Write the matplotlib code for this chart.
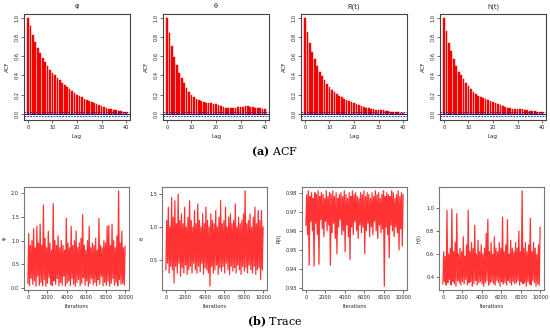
import numpy as np
import matplotlib
matplotlib.use('Agg')
import matplotlib.pyplot as plt

plt.rcParams['mathtext.fontset'] = 'dejavuserif'

# ACF values, lags 0..40
lags = list(range(41))
acf_phi = [1.0, 0.91, 0.82, 0.75, 0.69, 0.63, 0.58, 0.54, 0.50, 0.46, 0.43,
           0.40, 0.37, 0.35, 0.32, 0.30, 0.28, 0.26, 0.24, 0.22, 0.20,
           0.185, 0.17, 0.155, 0.14, 0.13, 0.12, 0.11, 0.10, 0.09, 0.08,
           0.07, 0.06, 0.05, 0.045, 0.04, 0.035, 0.03, 0.025, 0.02, 0.02]
acf_theta = [1.0, 0.84, 0.71, 0.59, 0.51, 0.43, 0.37, 0.32, 0.27, 0.23, 0.20,
             0.17, 0.15, 0.14, 0.13, 0.12, 0.11, 0.11, 0.11, 0.105, 0.10,
             0.095, 0.085, 0.075, 0.065, 0.06, 0.06, 0.06, 0.065, 0.07, 0.07,
             0.075, 0.08, 0.08, 0.075, 0.07, 0.065, 0.06, 0.055, 0.05, 0.045]
acf_R = [1.0, 0.85, 0.74, 0.64, 0.57, 0.50, 0.44, 0.39, 0.35, 0.31, 0.28,
         0.25, 0.23, 0.21, 0.19, 0.17, 0.155, 0.14, 0.13, 0.12, 0.11,
         0.10, 0.09, 0.08, 0.07, 0.06, 0.055, 0.05, 0.045, 0.04, 0.04,
         0.04, 0.035, 0.03, 0.025, 0.02, 0.02, 0.015, 0.015, 0.01, 0.01]
acf_h = [1.0, 0.86, 0.74, 0.65, 0.57, 0.50, 0.44, 0.40, 0.36, 0.32, 0.29,
         0.26, 0.23, 0.21, 0.19, 0.17, 0.16, 0.15, 0.14, 0.13, 0.12,
         0.11, 0.10, 0.09, 0.08, 0.07, 0.065, 0.06, 0.05, 0.05, 0.05,
         0.05, 0.045, 0.04, 0.035, 0.03, 0.03, 0.025, 0.02, 0.02, 0.015]
ci = 0.02

# trace values: alternating lows / highs of the chain
phi_low = [0.10, 0.05, 0.20, 0.08, 0.15, 0.04, 0.25, 0.06, 0.12, 0.05,
           0.18, 0.04, 0.10, 0.22, 0.07, 0.05, 0.15, 0.08, 0.20, 0.05,
           0.12, 0.06, 0.25, 0.04, 0.10, 0.15, 0.05, 0.20, 0.08, 0.04,
           0.12, 0.18, 0.05, 0.10, 0.22, 0.06, 0.15, 0.04, 0.10, 0.20,
           0.07, 0.12, 0.05, 0.18, 0.08, 0.25, 0.05, 0.12, 0.06, 0.15,
           0.04, 0.10, 0.20, 0.06, 0.12, 0.05, 0.18, 0.08, 0.10, 0.06]
phi_high = [1.15, 0.90, 1.00, 1.25, 0.85, 1.30, 0.95, 1.35, 0.90, 1.75,
            1.05, 0.85, 1.20, 0.95, 0.80, 1.78, 1.00, 0.90, 1.10, 0.85,
            1.00, 0.90, 0.80, 1.47, 0.95, 0.85, 1.30, 0.90, 1.00, 1.20,
            0.85, 0.95, 1.05, 1.55, 0.90, 0.80, 1.00, 1.30, 0.85, 0.95,
            0.90, 1.05, 0.80, 1.47, 0.90, 0.85, 1.00, 0.95, 1.30, 1.32,
            0.90, 1.35, 1.00, 0.85, 1.10, 2.05, 0.95, 1.20, 0.85, 0.88]

theta_low = [0.35, 0.45, 0.30, 0.40, 0.35, 0.15, 0.40, 0.30, 0.45, 0.25,
             0.38, 0.30, 0.42, 0.28, 0.35, 0.40, 0.30, 0.45, 0.35, 0.30,
             0.40, 0.32, 0.45, 0.28, 0.38, 0.35, 0.30, 0.10, 0.40, 0.30,
             0.35, 0.42, 0.28, 0.38, 0.33, 0.40, 0.30, 0.45, 0.35, 0.28,
             0.40, 0.33, 0.38, 0.30, 0.42, 0.35, 0.28, 0.40, 0.33, 0.38,
             0.30, 0.42, 0.35, 0.30, 0.40, 0.28, 0.35, 0.38, 0.20, 0.35]
theta_high = [1.10, 1.30, 1.00, 1.45, 1.15, 1.40, 1.05, 1.50, 1.10, 1.20,
              1.05, 1.30, 1.00, 1.15, 1.40, 1.10, 1.00, 1.25, 1.05, 1.35,
              1.10, 1.00, 1.20, 1.05, 1.30, 1.10, 1.00, 1.20, 1.10, 1.05,
              1.25, 1.00, 1.15, 1.40, 1.05, 1.10, 1.30, 1.00, 1.15, 1.20,
              1.05, 1.10, 1.35, 1.00, 1.15, 1.05, 1.10, 1.20, 1.55, 1.05,
              1.10, 1.20, 1.00, 1.15, 1.30, 1.05, 1.25, 1.10, 1.25, 1.00]

R_low = [0.963, 0.958, 0.942, 0.965, 0.960, 0.9415, 0.964, 0.958, 0.9425, 0.966,
         0.961, 0.957, 0.965, 0.960, 0.963, 0.942, 0.959, 0.964, 0.956, 0.948,
         0.962, 0.966, 0.958, 0.960, 0.949, 0.963, 0.957, 0.945, 0.962, 0.958,
         0.965, 0.960, 0.956, 0.963, 0.959, 0.962, 0.948, 0.960, 0.964, 0.957,
         0.962, 0.958, 0.965, 0.960, 0.956, 0.963, 0.959, 0.961, 0.931, 0.962,
         0.958, 0.946, 0.963, 0.960, 0.957, 0.962, 0.959, 0.950, 0.961, 0.952]
R_high = [0.979, 0.981, 0.978, 0.980, 0.977, 0.980, 0.979, 0.981, 0.978, 0.980,
          0.979, 0.977, 0.981, 0.978, 0.980, 0.979, 0.981, 0.978, 0.980, 0.977,
          0.979, 0.980, 0.978, 0.981, 0.979, 0.977, 0.980, 0.978, 0.981, 0.979,
          0.980, 0.978, 0.977, 0.980, 0.979, 0.981, 0.978, 0.980, 0.979, 0.977,
          0.980, 0.978, 0.981, 0.979, 0.980, 0.977, 0.979, 0.981, 0.978, 0.980,
          0.979, 0.978, 0.981, 0.980, 0.977, 0.979, 0.981, 0.978, 0.980, 0.979]

h_low = [0.34, 0.36, 0.33, 0.35, 0.38, 0.33, 0.36, 0.34, 0.32, 0.37,
         0.35, 0.33, 0.36, 0.34, 0.38, 0.33, 0.35, 0.36, 0.32, 0.34,
         0.37, 0.33, 0.35, 0.36, 0.34, 0.32, 0.35, 0.37, 0.33, 0.35,
         0.36, 0.34, 0.33, 0.37, 0.35, 0.32, 0.36, 0.34, 0.35, 0.33,
         0.37, 0.35, 0.33, 0.36, 0.34, 0.35, 0.37, 0.33, 0.36, 0.34,
         0.35, 0.32, 0.36, 0.34, 0.33, 0.37, 0.35, 0.32, 0.34, 0.33]
h_high = [0.62, 0.58, 0.98, 0.60, 0.65, 0.99, 0.62, 0.70, 0.95, 0.60,
          0.65, 0.62, 0.75, 0.58, 0.68, 0.98, 0.62, 0.70, 0.65, 0.85,
          0.60, 0.72, 0.62, 0.68, 0.60, 0.65, 0.78, 0.90, 0.62, 0.70,
          0.60, 0.75, 0.65, 0.62, 0.70, 0.65, 0.92, 0.62, 0.68, 0.90,
          0.60, 0.72, 0.65, 0.62, 0.70, 0.65, 0.80, 0.62, 1.15, 0.65,
          0.70, 0.62, 0.68, 0.91, 0.62, 0.70, 0.65, 0.60, 0.68, 0.83]

titles = ['\u03c6', '\u03b8', 'R(t)', 'h(t)']
acfs = [acf_phi, acf_theta, acf_R, acf_h]
traces = [(phi_low, phi_high), (theta_low, theta_high), (R_low, R_high), (h_low, h_high)]
trace_yticks = [[0.0, 0.5, 1.0, 1.5, 2.0], [0.5, 1.0, 1.5],
                [0.93, 0.94, 0.95, 0.96, 0.97, 0.98], [0.4, 0.6, 0.8, 1.0]]
trace_fmt = ['%.1f', '%.1f', '%.2f', '%.1f']

W, H = 550, 335
fig = plt.figure(figsize=(5.5, 3.35), dpi=100)
fig.patch.set_facecolor('white')

def px_axes(l, t, r, b):
    return fig.add_axes([l / W, 1 - b / H, (r - l) / W, (b - t) / H])

def r_style(ax, col):
    for s in ax.spines.values():
        s.set_color(col)
        s.set_linewidth(0.8)
    ax.tick_params(direction='out', length=2, width=0.5, color='#333333',
                   labelsize=3.6, pad=1.5, labelcolor='#222222')

acf_left = [24, 163, 301, 440]
for k in range(4):
    ax = px_axes(acf_left[k], 14, acf_left[k] + 106, 120)
    ax.bar(lags, acfs[k], width=0.7, color='#ff0000', edgecolor='#dd0000', linewidth=0.3)
    ax.axhline(0, color='black', lw=0.6)
    ax.axhline(ci, color='blue', lw=0.6, ls=(0, (2, 1.5)))
    ax.axhline(-ci, color='blue', lw=0.6, ls=(0, (2, 1.5)))
    ax.set_xlim(-1.6, 41.6)
    ax.set_ylim(-0.065, 1.04)
    ax.set_xticks([0, 10, 20, 30, 40])
    ax.set_yticks([0.0, 0.2, 0.4, 0.6, 0.8, 1.0])
    ax.set_yticklabels(['%.1f' % v for v in [0.0, 0.2, 0.4, 0.6, 0.8, 1.0]],
                       rotation=90, va='center')
    r_style(ax, '#444444')
    ax.set_title(titles[k], fontsize=4.8, pad=4, color='#222222')
    ax.set_xlabel('Lag', fontsize=4, labelpad=3, color='#222222')
    ax.set_ylabel('ACF', fontsize=4, labelpad=3, color='#222222')

trace_left = [24, 162, 302, 439]
for k in range(4):
    ax = px_axes(trace_left[k], 187, trace_left[k] + 105, 290)
    lo, hi = traces[k]
    vals = []
    for a, b in zip(lo, hi):
        vals.append(a)
        vals.append(b)
    iters = np.arange(len(vals)) * 10000.0 / (len(vals) - 1)
    ax.plot(iters, vals, color='#ff0000', lw=0.9, alpha=0.8)
    ax.set_xlim(-400, 10400)
    vmin, vmax = min(vals), max(vals)
    pad = (vmax - vmin) * 0.04
    ax.set_ylim(vmin - pad, vmax + pad)
    ax.set_xticks([0, 2000, 4000, 6000, 8000, 10000])
    ax.set_yticks(trace_yticks[k])
    ax.set_yticklabels([trace_fmt[k] % v for v in trace_yticks[k]])
    r_style(ax, '#777777')
    ax.set_xlabel('Iterations', fontsize=3.6, labelpad=3, color='#222222')
    ax.set_ylabel(titles[k], fontsize=3.6, labelpad=3, color='#222222')

fig.text(0.5, 1 - 152 / H, r'$\mathbf{(a)}$ ACF', ha='center', va='center',
         fontsize=8, family='DejaVu Serif')
fig.text(0.5, 1 - 322 / H, r'$\mathbf{(b)}$ Trace', ha='center', va='center',
         fontsize=8, family='DejaVu Serif')

fig.savefig('out.png', dpi=100)
